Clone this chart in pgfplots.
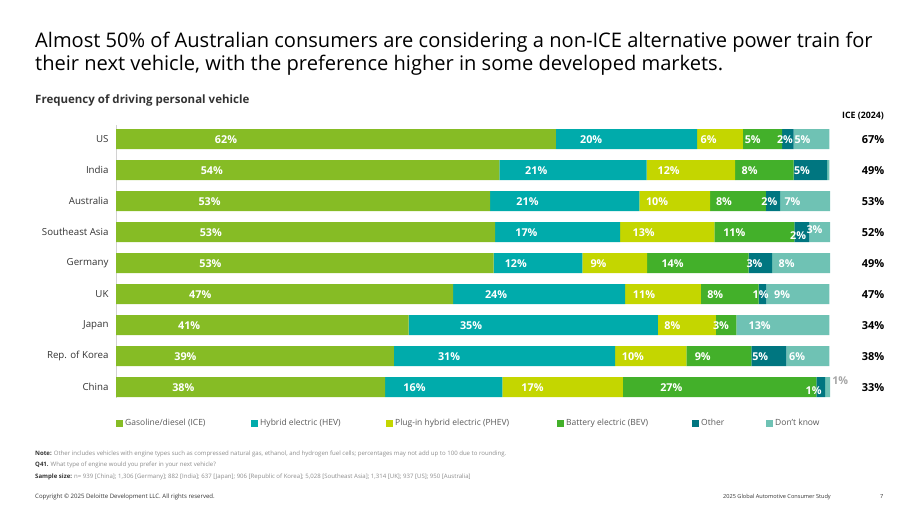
\documentclass[border=0pt]{standalone}
\usepackage{pgfplots}
\pgfplotsset{compat=1.18}
\usepackage{fontspec}
\setmainfont{Open Sans}
\definecolor{cICE}{HTML}{86BC25}
\definecolor{cHEV}{HTML}{00ABAB}
\definecolor{cPHEV}{HTML}{C4D600}
\definecolor{cBEV}{HTML}{43B02A}
\definecolor{cOTH}{HTML}{007680}
\definecolor{cDK}{HTML}{6FC2B4}
\definecolor{txt}{HTML}{333333}
\definecolor{note}{HTML}{8C8C8C}
\protected\def\lo#1{\raisebox{-3pt}[\height][\depth]{#1}}
\protected\def\hi#1{\raisebox{3pt}[\height][\depth]{#1}}
\protected\def\chO#1{\makebox[0pt]{\hspace*{-10pt}\raisebox{-3pt}[\height][\depth]{#1}}}
\protected\def\outl#1{\makebox[0pt][l]{\hspace*{6pt}\raisebox{7pt}[\height][\depth]{\textcolor{gray!70}{#1}}}}
\begin{document}
\begin{tikzpicture}
\useasboundingbox (0,0) rectangle (920pt,-518pt);
% title
\node[anchor=base west, inner sep=0pt, font=\fontsize{20.1}{24}\selectfont] at (35pt,-47.5pt) {Almost 50\% of Australian consumers are considering a non-ICE alternative power train for};
\node[anchor=base west, inner sep=0pt, font=\fontsize{20.1}{24}\selectfont] at (35pt,-70.5pt) {their next vehicle, with the preference higher in some developed markets.};
\node[anchor=base west, inner sep=0pt, font=\fontsize{11.5}{13}\selectfont\bfseries, text=txt] at (35pt,-104pt) {Frequency of driving personal vehicle};
\node[anchor=base, inner sep=0pt, font=\fontsize{8.8}{10}\selectfont\bfseries] at (863pt,-119pt) {ICE (2024)};

\begin{axis}[
  at={(116pt,-398pt)}, anchor=south west,
  scale only axis, width=714pt, height=272.8pt,
  xbar stacked, bar width=20pt,
  xmin=0, xmax=100, ymin=-0.45, ymax=8.35, y dir=reverse,
  axis x line=none, axis y line*=left,
  y axis line style={draw=gray!35, line width=0.8pt},
  ytick={0,...,8}, major tick length=0pt,
  yticklabels={US,India,Australia,Southeast Asia,Germany,UK,Japan,Rep. of Korea,China},
  yticklabel style={font=\fontsize{9.7}{11}\selectfont, text=txt, xshift=-4pt},
  clip=false,
  point meta=explicit symbolic,
  visualization depends on=rawx \as \rawx,
  nodes near coords,
  every node near coord/.append style={anchor=center, xshift={-0.25*\rawx*7.14pt}, font=\fontsize{10.8}{12}\selectfont\bfseries, text=white},
  legend columns=6,
  legend style={at={(0,0)}, anchor=west, xshift=0pt, yshift=-25pt, draw=none, fill=none, inner xsep=0pt,
    font=\fontsize{8.5}{10}\selectfont, text=black!65,
    /tikz/every even column/.append style={column sep=0pt}},
  legend image code/.code={\fill[#1] (0pt,-3.5pt) rectangle (7pt,3.5pt);},
]
\addplot[fill=cICE, draw=none] coordinates {
 (61.6,0) [62\%] (53.7,1) [54\%] (52.4,2) [53\%] (53.1,3) [53\%] (52.9,4) [53\%]
 (47.2,5) [47\%] (41.0,6) [41\%] (38.9,7) [39\%] (37.7,8) [38\%]};
\addlegendentry{\makebox[124pt][l]{Gasoline/diesel (ICE)}}
\addplot[fill=cHEV, draw=none] coordinates {
 (19.8,0) [20\%] (20.6,1) [21\%] (20.9,2) [21\%] (17.5,3) [17\%] (12.4,4) [12\%]
 (24.1,5) [24\%] (34.9,6) [35\%] (31.0,7) [31\%] (16.4,8) [16\%]};
\addlegendentry{\makebox[124pt][l]{Hybrid electric (HEV)}}
\addplot[fill=cPHEV, draw=none] coordinates {
 (6.4,0) [6\%] (12.4,1) [12\%] (9.9,2) [10\%] (13.2,3) [13\%] (9.1,4) [9\%]
 (10.6,5) [11\%] (8.1,6) [8\%] (10.0,7) [10\%] (16.9,8) [17\%]};
\addlegendentry{\makebox[160pt][l]{Plug-in hybrid electric (PHEV)}}
\addplot[fill=cBEV, draw=none] coordinates {
 (5.5,0) [5\%] (8.2,1) [8\%] (7.8,2) [8\%] (11.2,3) [11\%] (14.2,4) [14\%]
 (8.1,5) [8\%] (2.9,6) [3\%] (9.1,7) [9\%] (27.1,8) [27\%]};
\addlegendentry{\makebox[124pt][l]{Battery electric (BEV)}}
\addplot[fill=cOTH, draw=none] coordinates {
 (1.6,0) [2\%] (4.7,1) [5\%] (2.0,2) [2\%] (2.1,3) [\lo{2\%}] (3.3,4) [3\%]
 (1.1,5) [1\%] (0,6) [] (4.9,7) [5\%] (1.2,8) [\chO{1\%}]};
\addlegendentry{\makebox[63pt][l]{Other}}
\addplot[fill=cDK, draw=none] coordinates {
 (5.0,0) [5\%] (0.3,1) [] (7.0,2) [7\%] (2.9,3) [\hi{3\%}] (8.1,4) [8\%]
 (8.8,5) [9\%] (13.0,6) [13\%] (6.0,7) [6\%] (0.7,8) [\outl{1\%}]};
\addlegendentry{Don't know}
\end{axis}

\begin{axis}[
  at={(116pt,-398pt)}, anchor=south west,
  scale only axis, width=714pt, height=272.8pt,
  xmin=0, xmax=100, ymin=-0.45, ymax=8.35, y dir=reverse,
  axis x line=none, axis y line*=right,
  y axis line style={draw=none},
  ytick={0,...,8}, major tick length=0pt,
  yticklabels={67\%,49\%,53\%,52\%,49\%,47\%,34\%,38\%,33\%},
  yticklabel style={anchor=center, xshift=43pt, font=\fontsize{11}{13}\selectfont\bfseries, text=black},
]
\addplot[draw=none] coordinates {(0,0)};
\end{axis}

% footnotes
\begin{scope}[every node/.style={anchor=base west, inner sep=0pt, font=\fontsize{6.05}{7}\selectfont, text=note}]
\node at (35pt,-455.5pt) {\textcolor{txt}{\bfseries Note:} Other includes vehicles with engine types such as compressed natural gas, ethanol, and hydrogen fuel cells; percentages may not add up to 100 due to rounding.};
\node at (35pt,-466.5pt) {\textcolor{txt}{\bfseries Q41.} What type of engine would you prefer in your next vehicle?};
\node at (35pt,-478.5pt) {\textcolor{txt}{\bfseries Sample size:} n= 939 [China]; 1,306 [Germany]; 882 [India]; 637 [Japan]; 906 [Republic of Korea]; 5,028 [Southeast Asia]; 1,314 [UK]; 937 [US]; 950 [Australia]};
\node[text=txt] at (35pt,-498pt) {Copyright © 2025 Deloitte Development LLC. All rights reserved.};
\node[text=txt, font=\fontsize{5.6}{7}\selectfont] at (723pt,-498pt) {2025 Global Automotive Consumer Study};
\node[text=txt, font=\fontsize{5.6}{7}\selectfont] at (880pt,-498pt) {7};
\end{scope}
\end{tikzpicture}
\end{document}
